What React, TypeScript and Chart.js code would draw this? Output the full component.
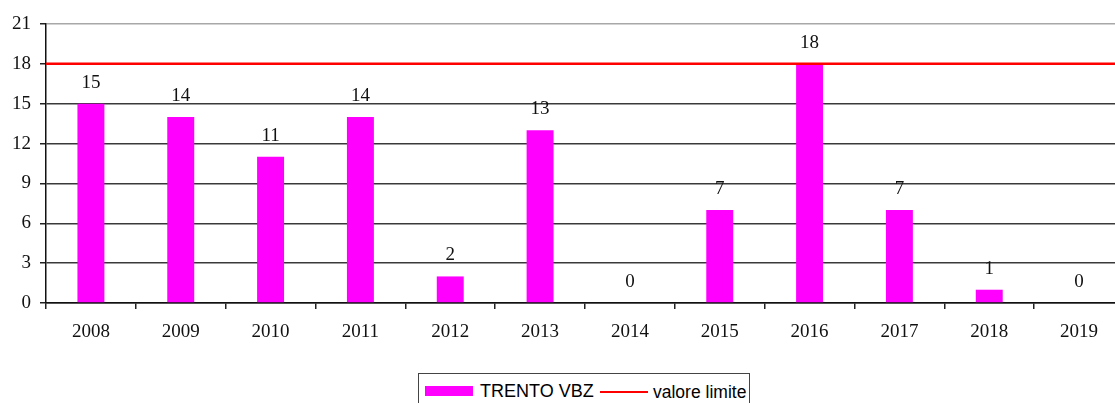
import React, { useEffect, useRef } from "react";
import { Chart, registerables } from "chart.js";

Chart.register(...registerables);

const categories = ["2008", "2009", "2010", "2011", "2012", "2013", "2014", "2015", "2016", "2017", "2018", "2019"];
const trentoVbz = [15, 14, 11, 14, 2, 13, 0, 7, 18, 7, 1, 0];
const limitValue = 18;
const yTicks = [0, 3, 6, 9, 12, 15, 18, 21];
const seriesName = "TRENTO VBZ";
const limitName = "valore limite";

const SERIF = "'Liberation Serif', 'Times New Roman', serif";
const SANS = "'Liberation Sans', Arial, sans-serif";

// Horizontal limit line drawn through the y scale, across the whole plot area
const limitPlugin = {
  id: "limitLine",
  afterDatasetsDraw(chart: any) {
    const { ctx, chartArea, scales } = chart;
    const y = scales.y.getPixelForValue(limitValue);
    ctx.save();
    ctx.strokeStyle = "#ff0000";
    ctx.lineWidth = 2.5;
    ctx.beginPath();
    ctx.moveTo(chartArea.left, y);
    ctx.lineTo(chartArea.right, y);
    ctx.stroke();
    ctx.restore();
  },
};

const labelPlugin = {
  id: "barLabels",
  afterDatasetsDraw(chart: any) {
    const meta = chart.getDatasetMeta(0);
    const ctx = chart.ctx;
    ctx.save();
    ctx.font = `19px ${SERIF}`;
    ctx.fillStyle = "#111";
    ctx.textAlign = "center";
    ctx.textBaseline = "alphabetic";
    meta.data.forEach((bar: any, i: number) => {
      ctx.fillText(String(trentoVbz[i]), bar.x, bar.y - 16);
    });
    ctx.restore();
  },
};

export default function App() {
  const ref = useRef<HTMLCanvasElement>(null);
  useEffect(() => {
    if (!ref.current) return;
    const chart = new Chart(ref.current, {
      type: "bar",
      data: {
        labels: categories,
        datasets: [
          {
            label: seriesName,
            data: trentoVbz,
            backgroundColor: "#ff00ff",
            borderWidth: 0,
            barPercentage: 0.3,
            categoryPercentage: 1,
          },
        ],
      },
      options: {
        animation: false,
        responsive: false,
        maintainAspectRatio: false,
        layout: { padding: { top: 24, bottom: 60, left: 0, right: 0 } },
        plugins: { legend: { display: false }, tooltip: { enabled: false } },
        scales: {
          x: {
            type: "category",
            offset: true,
            grid: {
              offset: true,
              drawOnChartArea: false,
              drawTicks: true,
              tickLength: 6,
              color: "#222",
              lineWidth: 1.5,
            },
            border: { display: true, color: "#111", width: 1.5 },
            ticks: {
              font: { family: SERIF, size: 19 },
              color: "#111",
              padding: 12,
              maxRotation: 0,
            },
            afterFit(scale: any) {
              scale.height = 40;
            },
          },
          y: {
            min: 0,
            max: 21,
            afterBuildTicks(scale: any) {
              scale.ticks = yTicks.map((v) => ({ value: v }));
            },
            grid: {
              color: (c: any) => (c.tick && c.tick.value === 21 ? "#a8a8a8" : "#3a3a3a"),
              lineWidth: 1.5,
              tickLength: 6,
              tickColor: "#222",
            },
            border: { display: true, color: "#111", width: 1.5 },
            ticks: {
              font: { family: SERIF, size: 19 },
              color: "#111",
              padding: 9,
            },
            afterFit(scale: any) {
              scale.width = 46;
            },
          },
        },
      },
      plugins: [limitPlugin, labelPlugin],
    });
    return () => chart.destroy();
  }, []);

  return (
    <div
      style={{
        position: "absolute",
        left: 0,
        top: 0,
        width: 1115,
        height: 403,
        overflow: "hidden",
        background: "#fff",
      }}
    >
      <canvas ref={ref} width={1124} height={403} style={{ display: "block", width: 1124, height: 403 }} />
      <div
        style={{
          position: "absolute",
          left: 418,
          top: 373,
          width: 330,
          height: 40,
          border: "1px solid #444",
          background: "#fff",
          fontFamily: SANS,
          color: "#000",
          overflow: "hidden",
        }}
      >
        <div style={{ position: "absolute", left: 6, top: 12, width: 48, height: 10, background: "#ff00ff" }} />
        <div style={{ position: "absolute", left: 61, top: 6, fontSize: 18, lineHeight: "22px", whiteSpace: "nowrap" }}>
          {seriesName}
        </div>
        <div style={{ position: "absolute", left: 181, top: 17, width: 48, height: 2, background: "#ff0000" }} />
        <div style={{ position: "absolute", left: 234, top: 7, fontSize: 17.5, lineHeight: "22px", whiteSpace: "nowrap" }}>
          {limitName}
        </div>
      </div>
    </div>
  );
}
